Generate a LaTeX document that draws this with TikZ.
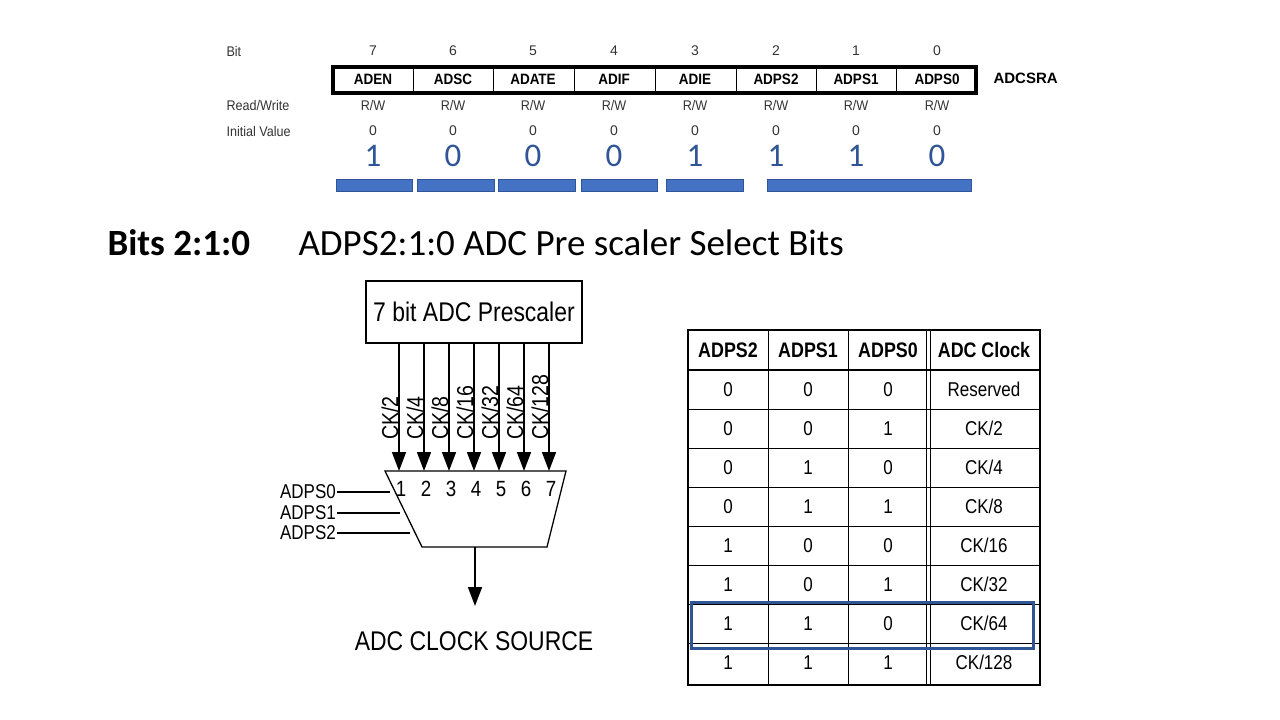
\documentclass[tikz,border=0pt]{standalone}
\usepackage{fontspec}
\setmainfont{Liberation Sans}
\newfontfamily\calfont{Carlito}
\usetikzlibrary{arrows.meta}
\definecolor{bl}{HTML}{2F5597}
\definecolor{bar}{HTML}{4472C4}
\begin{document}
\begin{tikzpicture}[x=1pt,y=-1pt,
  reg/.style={font=\fontsize{14}{15}\selectfont,text=black!80},
  regb/.style={font=\bfseries\fontsize{15}{16}\selectfont},
  dig/.style={font=\calfont\fontsize{33}{35}\selectfont,text=bl},
  tb/.style={font=\fontsize{20}{21}\selectfont},
  ar/.style={-{Triangle[length=19pt,width=14pt]},line width=1.6pt}]
\useasboundingbox (0,0) rectangle (1280,720);
% register
\node[reg,anchor=west] (bit) at (223,51) {\scalebox{0.9}[1]{Bit}};
\node[reg,anchor=west] (rw) at (223,105) {\scalebox{0.9}[1]{Read/Write}};
\node[reg,anchor=west] (iv) at (223,131) {\scalebox{0.9}[1]{Initial Value}};
\draw[line width=3.5pt] (333,67) rectangle (976,93);
\foreach \x in {413,493,574,655,736,816,896} \draw[line width=0.7pt] (\x,67)--(\x,93);
\foreach \n/\x/\b/\d in {ADEN/373/7/1,ADSC/453/6/0,ADATE/533/5/0,ADIF/614/4/0,ADIE/695/3/1,ADPS2/776/2/1,ADPS1/856/1/1,ADPS0/937/0/0}{
  \node[reg] (b\b) at (\x,51) {\b};
  \node[regb] (n\b) at (\x,79) {\scalebox{0.9}[1]{\n}};
  \node[reg] (r\b) at (\x,105) {\scalebox{0.9}[1]{R/W}};
  \node[reg] (i\b) at (\x,131) {0};
  \node[dig] (d\b) at (\x,156) {\d};
}
\node[regb,anchor=west] (adcsra) at (990,78) {ADCSRA};
\foreach \a/\b in {336/412,417/494,498/575,581/657,666/743,767/971}
  \draw[fill=bar,draw=bl] (\a,179) rectangle (\b,191);
% heading
\node[anchor=west,font=\calfont\bfseries\fontsize{37}{38}\selectfont] (h1) at (104,243) {Bits 2:1:0};
\node[anchor=west,font=\calfont\fontsize{37}{38}\selectfont] (h2) at (295,243) {ADPS2:1:0 ADC Pre scaler Select Bits};
% mux
\node[draw,line width=1.3pt,minimum width=216pt,minimum height=62pt,font=\fontsize{27}{28}\selectfont] (pre) at (474,312) {\scalebox{0.85}[1]{7 bit ADC Prescaler}};
\draw[line width=1.3pt] (385,471) coordinate (tl) -- (566,471) -- (547,547) -- (422,547) -- cycle;
\foreach \i/\x/\l in {1/399/{CK/2},2/424/{CK/4},3/449/{CK/8},4/474/{CK/16},5/499/{CK/32},6/524/{CK/64},7/549/{CK/128}}{
  \coordinate (s\i) at (\x,343);
  \coordinate (e\i) at (\x,471);
  \draw[ar] (s\i) -- (e\i);
  \node[font=\fontsize{23}{24}\selectfont,rotate=90,anchor=west,inner sep=0pt] (l\i) at (\x-9,440) {\scalebox{0.85}[1]{\l}};
  \node[font=\fontsize{22}{23}\selectfont] (m\i) at (\x+2,489) {\scalebox{0.85}[1]{\i}};
}
\foreach \n/\y/\xe in {0/492/390,1/513/400,2/533/410}{
  \coordinate (p\n) at (\xe,\y);
  \node[anchor=east,font=\fontsize{20}{21}\selectfont,inner sep=1pt] (a\n) at (337,\y) {\scalebox{0.85}[1]{ADPS\n}};
  \draw[line width=1.3pt] (a\n.east) -- (p\n);
}
\coordinate (o1) at (475,547);
\coordinate (o2) at (475,606);
\draw[ar] (o1) -- (o2);
\node[font=\fontsize{27}{28}\selectfont] (src) at (474,641) {\scalebox{0.85}[1]{ADC CLOCK SOURCE}};
% table
\draw[line width=1.3pt] (688,330) rectangle (1040,685);
\foreach \x in {768,848} \draw[line width=1pt] (\x,330)--(\x,685);
\draw[line width=1pt] (926,330)--(926,685); \draw[line width=1pt] (930,330)--(930,685);
\draw[line width=2pt] (688,370)--(1040,370);
\foreach \y in {409,448,487,526,565,604,643} \draw[line width=0.8pt] (688,\y)--(1040,\y);
\foreach \t/\x in {ADPS2/728,ADPS1/808,ADPS0/888,ADC Clock/984}
  \node[font=\bfseries\fontsize{21}{22}\selectfont] at (\x,350) {\scalebox{0.85}[1]{\t}};
\foreach \a/\b/\c/\d [count=\r] in {0/0/0/Reserved,0/0/1/{CK/2},0/1/0/{CK/4},0/1/1/{CK/8},1/0/0/{CK/16},1/0/1/{CK/32},1/1/0/{CK/64},1/1/1/{CK/128}}{
  \pgfmathsetmacro\yy{389.5+39*(\r-1)}
  \node[tb] at (728,\yy) {\scalebox{0.85}[1]{\a}};
  \node[tb] at (808,\yy) {\scalebox{0.85}[1]{\b}};
  \node[tb] at (888,\yy) {\scalebox{0.85}[1]{\c}};
  \node[tb] at (984,\yy) {\scalebox{0.85}[1]{\d}};
}
\draw[bl,line width=3pt] (691,602) rectangle (1033,648);
\end{tikzpicture}
\end{document}
